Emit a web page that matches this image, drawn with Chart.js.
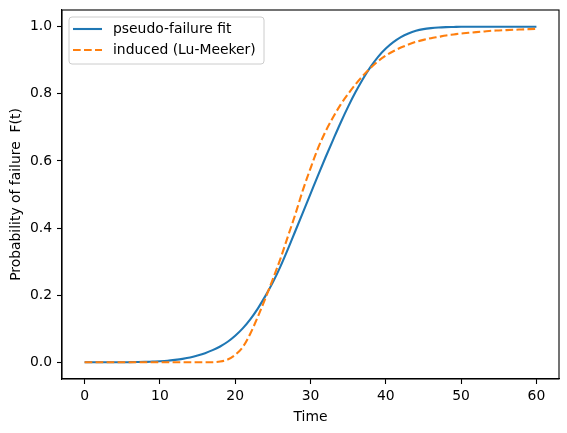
<!DOCTYPE html>
<html>
<head>
<meta charset="utf-8">
<script src="https://cdn.jsdelivr.net/npm/chart.js@4"></script>
<style>
  body { margin: 0; background: #fff; }
</style>
</head>
<body>
<canvas id="chart" width="567" height="433"></canvas>
<script>
// time grid, one point per unit
const times = [
  0, 1, 2, 3, 4, 5, 6, 7, 8, 9, 10, 11, 12, 13, 14, 15, 16, 17, 18, 19, 20,
  21, 22, 23, 24, 25, 26, 27, 28, 29, 30, 31, 32, 33, 34, 35, 36, 37, 38, 39, 40,
  41, 42, 43, 44, 45, 46, 47, 48, 49, 50, 51, 52, 53, 54, 55, 56, 57, 58, 59, 60
];

// values
const pseudoFit = [
  0, 0, 0, 0, 0, 0, 0.0002, 0.0005, 0.001, 0.002, 0.003,
  0.0045, 0.007, 0.010, 0.014, 0.020, 0.027, 0.036, 0.047, 0.061, 0.079,
  0.101, 0.128, 0.16, 0.197, 0.238, 0.285, 0.337, 0.392, 0.447, 0.502,
  0.557, 0.611, 0.663, 0.714, 0.762, 0.806, 0.846, 0.881, 0.911, 0.935,
  0.954, 0.969, 0.980, 0.988, 0.993, 0.996, 0.998, 0.999, 0.9995, 1,
  1, 1, 1, 1, 1, 1, 1, 1, 1, 1
];

const induced = [
  0, 0, 0, 0, 0, 0, 0, 0, 0, 0, 0,
  0, 0, 0, 0, 0, 0, 0, 0.002, 0.008, 0.022,
  0.045, 0.085, 0.135, 0.19, 0.248, 0.308, 0.375, 0.442, 0.514, 0.578,
  0.638, 0.688, 0.73, 0.768, 0.800, 0.829, 0.855, 0.878, 0.898, 0.914,
  0.927, 0.938, 0.947, 0.955, 0.961, 0.966, 0.97, 0.974, 0.977, 0.98,
  0.982, 0.984, 0.986, 0.988, 0.989, 0.99, 0.991, 0.992, 0.993, 0.994
];

const xTicks = [0, 10, 20, 30, 40, 50, 60];
const yTicks = [0, 0.2, 0.4, 0.6, 0.8, 1.0];

Chart.defaults.font.family = "'DejaVu Sans', sans-serif";
Chart.defaults.font.size = 13.9;
Chart.defaults.color = "#000";

const toPoints = (ys) => times.map((t, i) => ({ x: t, y: ys[i] }));

// matplotlib-like box around the axes
const framePlugin = {
  id: "frame",
  afterDatasetsDraw(chart) {
    const { ctx, chartArea: a } = chart;
    ctx.save();
    ctx.strokeStyle = "#000";
    ctx.lineWidth = 1.1;
    ctx.strokeRect(a.left, a.top, a.right - a.left, a.bottom - a.top);
    ctx.restore();
  },
};

// legend in the upper left corner, inside the axes
const legendPlugin = {
  id: "innerLegend",
  afterDraw(chart) {
    const { ctx, chartArea: a } = chart;
    const sets = chart.data.datasets;
    const x0 = a.left + 7, y0 = a.top + 7;
    const rowH = 21, w = 195, h = 47;
    ctx.save();
    ctx.beginPath();
    ctx.roundRect(x0, y0, w, h, 3);
    ctx.fillStyle = "rgba(255,255,255,0.8)";
    ctx.fill();
    ctx.strokeStyle = "#cccccc";
    ctx.lineWidth = 1;
    ctx.stroke();
    ctx.font = "13.9px 'DejaVu Sans', sans-serif";
    ctx.textBaseline = "middle";
    sets.forEach((ds, i) => {
      const cy = y0 + 12 + i * rowH;
      ctx.beginPath();
      ctx.setLineDash(ds.borderDash || []);
      ctx.strokeStyle = ds.borderColor;
      ctx.lineWidth = ds.borderWidth;
      ctx.moveTo(x0 + 4, cy);
      ctx.lineTo(x0 + 33, cy);
      ctx.stroke();
      ctx.setLineDash([]);
      ctx.fillStyle = "#000";
      ctx.fillText(ds.label, x0 + 44, cy);
    });
    ctx.restore();
  },
};

new Chart(document.getElementById("chart"), {
  type: "line",
  data: {
    datasets: [
      {
        label: "pseudo-failure fit",
        data: toPoints(pseudoFit),
        borderColor: "#1f77b4",
        borderWidth: 2.1,
        pointRadius: 0,
        cubicInterpolationMode: "monotone",
        order: 1,
      },
      {
        label: "induced (Lu-Meeker)",
        data: toPoints(induced),
        borderColor: "#ff7f0e",
        borderWidth: 2.1,
        borderDash: [7.7, 3.3],
        pointRadius: 0,
        cubicInterpolationMode: "monotone",
        order: 0,
      },
    ],
  },
  options: {
    responsive: false,
    animation: false,
    devicePixelRatio: 1,
    layout: { padding: { top: 10, right: 8, left: 0, bottom: 0 } },
    plugins: { legend: { display: false }, tooltip: { enabled: false } },
    scales: {
      x: {
        type: "linear",
        min: -3,
        max: 63,
        afterBuildTicks: (s) => { s.ticks = xTicks.map((v) => ({ value: v })); },
        afterFit: (s) => { s.height = 54; s.paddingLeft = 0; s.paddingRight = 0; },
        ticks: { padding: 4, maxRotation: 0, callback: (v) => String(v) },
        grid: { drawOnChartArea: false, drawTicks: true, tickLength: 5, color: "#000", tickWidth: 1.1 },
        border: { display: true, color: "#000", width: 1.1 },
        title: { display: true, text: "Time", padding: { top: 0, bottom: 7.5 } },
      },
      y: {
        min: -0.05,
        max: 1.05,
        afterBuildTicks: (s) => { s.ticks = yTicks.map((v) => ({ value: v })); },
        afterFit: (s) => { s.width = 62; s.paddingTop = 0; s.paddingBottom = 0; },
        ticks: { padding: 5, callback: (v) => v.toFixed(1) },
        grid: { drawOnChartArea: false, drawTicks: true, tickLength: 5, color: "#000", tickWidth: 1.1 },
        border: { display: true, color: "#000", width: 1.1 },
        title: { display: true, text: "Probability of failure  F(t)", padding: { top: 8.4, bottom: 0 } },
      },
    },
  },
  plugins: [framePlugin, legendPlugin],
});
</script>
</body>
</html>
